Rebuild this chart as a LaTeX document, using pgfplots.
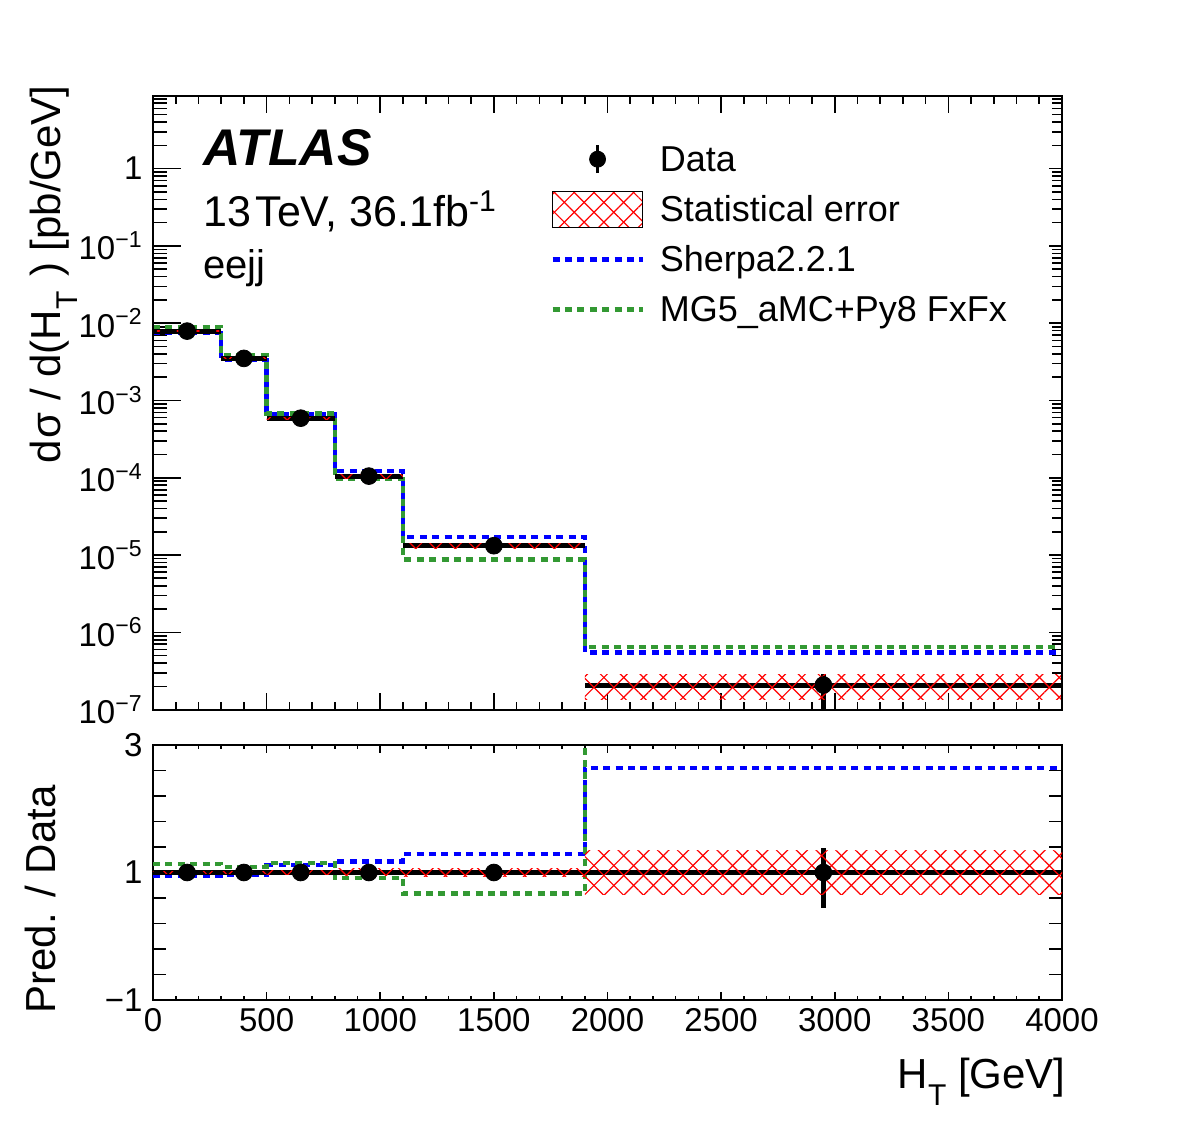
\documentclass[border=0pt]{standalone}
\usepackage{fontspec}
\setmainfont{Liberation Sans}
\usepackage{pgfplots}
\pgfplotsset{compat=1.18}
\usetikzlibrary{patterns.meta}

\definecolor{sherpablue}{RGB}{0,0,255}
\definecolor{mggreen}{RGB}{51,153,51}

\tikzset{
  stathatch/.style={draw=none,
    pattern={Lines[angle=45,distance=7pt,line width=0.6pt]}, pattern color=red,
    postaction={pattern={Lines[angle=-45,distance=7pt,line width=0.6pt]}, pattern color=red}},
  sherpaline/.style={sherpablue, line width=2.2pt, dash pattern=on 3.5pt off 2.7pt},
  mgline/.style={mggreen, line width=2.2pt, dash pattern=on 3.5pt off 2.7pt},
}

% measured distribution, per bin: centre, half width, value, stat. error up/down
\pgfplotstableread{
x    xerr  y        eup      edn
150  150   7.9e-3   8e-5     8e-5
400  100   3.5e-3   5e-5     5e-5
650  150   5.9e-4   1.2e-5   1.2e-5
950  150   1.05e-4  4e-6     4e-6
1500 400   1.32e-5  7e-7     7e-7
2950 1050  2.08e-7  0.81e-7  1.14e-7
}\datatab

% same points in the ratio panel
\pgfplotstableread{
x    xerr  y   eup    edn
150  150   1   0.01   0.01
400  100   1   0.015  0.015
650  150   1   0.02   0.02
950  150   1   0.04   0.04
1500 400   1   0.05   0.05
2950 1050  1   0.39   0.55
}\ratiotab

\pgfplotsset{
  tickfont/.style={font=\fontsize{16.5}{18}\selectfont},
  upperyticks/.style={
    ytick={1e-7,1e-6,1e-5,1e-4,1e-3,1e-2,1e-1,1},
    minor ytick={2e-7,3e-7,4e-7,5e-7,6e-7,7e-7,8e-7,9e-7,
                 2e-6,3e-6,4e-6,5e-6,6e-6,7e-6,8e-6,9e-6,
                 2e-5,3e-5,4e-5,5e-5,6e-5,7e-5,8e-5,9e-5,
                 2e-4,3e-4,4e-4,5e-4,6e-4,7e-4,8e-4,9e-4,
                 2e-3,3e-3,4e-3,5e-3,6e-3,7e-3,8e-3,9e-3,
                 2e-2,3e-2,4e-2,5e-2,6e-2,7e-2,8e-2,9e-2,
                 2e-1,3e-1,4e-1,5e-1,6e-1,7e-1,8e-1,9e-1,
                 2,3,4,5,6,7,8},
  },
  panel/.style={
    scale only axis, width=454.5pt,
    xmin=0, xmax=4000,
    axis line style={line width=1pt},
    tick align=inside,
    every tick/.style={black, line width=0.8pt},
    /pgf/number format/assume math mode=true,
    xtick={0,500,...,4000}, minor x tick num=4,
    clip=true,
  },
}

\begin{document}
\begin{tikzpicture}

% ---------------- main panel ----------------
\begin{axis}[panel, name=upper,
  height=306.8pt,
  ymode=log, ymin=1e-7, ymax=8.7,
  xticklabels={},
  xtick pos=both,
  xtick style={/pgfplots/major tick length=8.5pt},
  minor x tick style={/pgfplots/minor tick length=4pt},
  upperyticks,
  ytick pos=left,
  ytick style={/pgfplots/major tick length=14pt},
  minor y tick style={/pgfplots/minor tick length=7pt},
  yticklabels={10\textsuperscript{−7},10\textsuperscript{−6},10\textsuperscript{−5},10\textsuperscript{−4},10\textsuperscript{−3},10\textsuperscript{−2},10\textsuperscript{−1},1},
  yticklabel style={tickfont, inner sep=0pt, xshift=-5pt},
  ylabel={d\kern0.03em σ / d(H\raisebox{-0.4em}{\fontsize{15}{15}\selectfont T}\kern0.35em) [pb/GeV]},
  ylabel style={font=\fontsize{21}{24}\selectfont, inner sep=0pt, at={(rel axis cs:-0.1353,1.018)}, anchor=north east},
  legend cell align=left,
  legend style={draw=none, fill=none, at={(rel axis cs:0.4367,0.927)}, anchor=north west,
    font=\fontsize{18}{20}\selectfont, inner sep=0pt, row sep=0pt,
    nodes={inner sep=0pt, text height=15pt, text depth=10pt},
    /tikz/every odd column/.append style={column sep=7.5pt}},
]
% legend entries
\addlegendimage{legend image code/.code={
  \draw[black, line width=1.6pt] (22.5pt,-3.5pt) -- (22.5pt,10.5pt);
  \fill[black] (22.5pt,3.5pt) circle (4pt);}}
\addlegendentry{Data}
\addlegendimage{legend image code/.code={\path[stathatch] (0pt,-5.5pt) rectangle (45pt,12.5pt);}}
\addlegendentry{Statistical error}
\addlegendimage{legend image code/.code={\draw[sherpaline] (0pt,3.5pt) -- (45pt,3.5pt);}}
\addlegendentry{Sherpa2.2.1}
\addlegendimage{legend image code/.code={\draw[mgline] (0pt,3.5pt) -- (45pt,3.5pt);}}
\addlegendentry{MG5\_aMC+Py8 FxFx}

% predictions
\addplot[sherpaline, const plot, forget plot] coordinates {
  (0,7.5e-3) (300,3.36e-3) (500,6.6e-4) (800,1.23e-4) (1100,1.70e-5) (1900,5.5e-7) (4000,5.5e-7)};
\addplot[mgline, const plot, forget plot] coordinates {
  (0,8.9e-3) (300,3.8e-3) (500,6.8e-4) (800,9.6e-5) (1100,8.8e-6) (1900,6.45e-7) (4000,6.45e-7)};

% data
\addplot[black, only marks, mark=*, mark size=4.2pt, forget plot,
  error bars/.cd, x dir=both, x explicit, y dir=both, y explicit,
  error bar style={line width=2.5pt}, error mark=none]
  table[x=x, y=y, x error=xerr, y error plus=eup, y error minus=edn] {\datatab};

% statistical uncertainty band
\addplot[stathatch, forget plot] coordinates {(0,7.82e-3) (300,7.82e-3) (300,7.98e-3) (0,7.98e-3)} -- cycle;
\addplot[stathatch, forget plot] coordinates {(300,3.447e-3) (500,3.447e-3) (500,3.553e-3) (300,3.553e-3)} -- cycle;
\addplot[stathatch, forget plot] coordinates {(500,5.75e-4) (800,5.75e-4) (800,6.05e-4) (500,6.05e-4)} -- cycle;
\addplot[stathatch, forget plot] coordinates {(800,9.92e-5) (1100,9.92e-5) (1100,1.108e-4) (800,1.108e-4)} -- cycle;
\addplot[stathatch, forget plot] coordinates {(1100,1.228e-5) (1900,1.228e-5) (1900,1.412e-5) (1100,1.412e-5)} -- cycle;
\addplot[stathatch, forget plot] coordinates {(1900,1.35e-7) (4000,1.35e-7) (4000,2.81e-7) (1900,2.81e-7)} -- cycle;

\node[anchor=base west, inner sep=0pt, font=\fontsize{25.8}{28}\selectfont\bfseries\itshape] at (rel axis cs:0.055,0.886) {ATLAS};
\node[anchor=base west, inner sep=0pt, font=\fontsize{21.5}{24}\selectfont] at (rel axis cs:0.055,0.788) {13\kern0.1em TeV, 36.1fb\textsuperscript{-1}};
\node[anchor=base west, inner sep=0pt, font=\fontsize{20}{22}\selectfont] at (rel axis cs:0.055,0.703) {eejj};
\end{axis}

% right-hand ticks of the main panel
\begin{axis}[panel, at={(upper.south west)}, anchor=south west,
  height=306.8pt,
  ymode=log, ymin=1e-7, ymax=8.7,
  hide x axis,
  upperyticks, yticklabels={}, ytick pos=right,
  ytick style={/pgfplots/major tick length=6.5pt},
  minor y tick style={/pgfplots/minor tick length=5pt},
]
\end{axis}

% ---------------- ratio panel ----------------
\begin{axis}[panel, name=lower,
  at={(upper.south west)}, anchor=north west, yshift=-17.7pt,
  height=127.5pt,
  ymin=-1, ymax=3,
  xtick pos=both,
  xticklabels={0,500,1000,1500,2000,2500,3000,3500,4000},
  xticklabel style={tickfont, inner sep=0pt, yshift=-4pt},
  xtick style={/pgfplots/major tick length=4pt},
  minor x tick style={/pgfplots/minor tick length=2pt},
  ytick={-1,1,3}, yticklabels={−1,1,3},
  minor ytick={-0.6,-0.2,0.2,0.6,1.4,1.8,2.2,2.6},
  ytick pos=both,
  ytick style={/pgfplots/major tick length=6.5pt},
  minor y tick style={/pgfplots/minor tick length=6.5pt},
  yticklabel style={tickfont, inner sep=0pt, xshift=-5pt},
  ylabel={Pred. / Data},
  ylabel style={font=\fontsize{21}{24}\selectfont, inner sep=0pt, at={(rel axis cs:-0.1408,0.843)}, anchor=north east},
  xlabel={H\raisebox{-0.4em}{\fontsize{15}{15}\selectfont T} [GeV]},
  xlabel style={font=\fontsize{21}{24}\selectfont, inner sep=0pt, at={(rel axis cs:1,-0.2275)}, anchor=north east, xshift=2pt},
]
\addplot[sherpaline, const plot] coordinates {
  (0,0.95) (300,0.96) (500,1.12) (800,1.17) (1100,1.29) (1900,2.64) (4000,2.64)};
\addplot[mgline, const plot] coordinates {
  (0,1.13) (300,1.09) (500,1.15) (800,0.91) (1100,0.67) (1900,3.1) (4000,3.1)};

\addplot[black, only marks, mark=*, mark size=4.2pt,
  error bars/.cd, x dir=both, x explicit, y dir=both, y explicit,
  error bar style={line width=2.5pt}, error mark=none]
  table[x=x, y=y, x error=xerr, y error plus=eup, y error minus=edn] {\ratiotab};

\addplot[stathatch] coordinates {(0,0.99) (300,0.99) (300,1.01) (0,1.01)} -- cycle;
\addplot[stathatch] coordinates {(300,0.985) (500,0.985) (500,1.015) (300,1.015)} -- cycle;
\addplot[stathatch] coordinates {(500,0.975) (800,0.975) (800,1.025) (500,1.025)} -- cycle;
\addplot[stathatch] coordinates {(800,0.945) (1100,0.945) (1100,1.055) (800,1.055)} -- cycle;
\addplot[stathatch] coordinates {(1100,0.93) (1900,0.93) (1900,1.07) (1100,1.07)} -- cycle;
\addplot[stathatch] coordinates {(1900,0.65) (4000,0.65) (4000,1.35) (1900,1.35)} -- cycle;
\end{axis}

% page frame
\path[use as bounding box] ([shift={(-76.5pt,48pt)}]upper.north west) rectangle ++(591pt,-561.5pt);
\end{tikzpicture}
\end{document}
